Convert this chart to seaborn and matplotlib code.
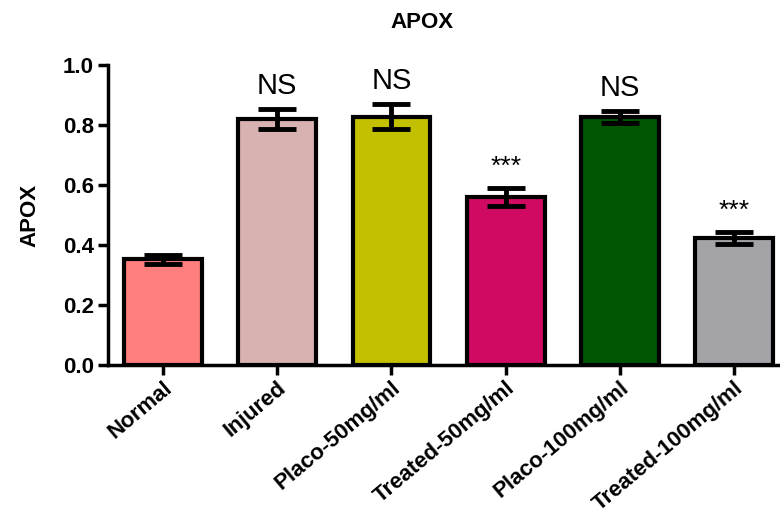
import matplotlib
matplotlib.use("Agg")
import matplotlib.pyplot as plt
import matplotlib.transforms as mtransforms
import seaborn as sns
import numpy as np
import pandas as pd

groups = ["Normal", "Injured", "Placo-50mg/ml", "Treated-50mg/ml",
          "Placo-100mg/ml", "Treated-100mg/ml"]
apox_mean = [0.352, 0.820, 0.828, 0.561, 0.828, 0.424]
apox_sem = [0.016, 0.033, 0.042, 0.030, 0.020, 0.020]
signif = ["", "NS", "NS", "***", "NS", "***"]
bar_colors = ["#FF7F7F", "#D8B1B1", "#C2C000", "#D00A62", "#005500", "#A4A3A7"]
y_ticks = [0.0, 0.2, 0.4, 0.6, 0.8, 1.0]

sns.set_theme(style="ticks")
plt.rcParams["font.family"] = ["Liberation Sans", "DejaVu Sans"]
plt.rcParams["text.color"] = "black"
plt.rcParams["xtick.color"] = "black"
plt.rcParams["ytick.color"] = "black"
plt.rcParams["axes.labelcolor"] = "black"

df = pd.DataFrame({"group": groups, "APOX": apox_mean})

fig = plt.figure(figsize=(7.8, 5.16), dpi=100)
ax = fig.add_axes([108 / 780, 1 - 365 / 516, (780 - 108) / 780, 300 / 516])

sns.barplot(data=df, x="group", y="APOX", hue="group", palette=bar_colors,
            saturation=1, legend=False, errorbar=None, width=0.68,
            edgecolor="black", linewidth=3, ax=ax, zorder=2)

xpos = np.arange(len(groups))
ax.errorbar(xpos, apox_mean, yerr=apox_sem, fmt="none", ecolor="black",
            elinewidth=3.5, capsize=14, capthick=3.5, zorder=3)

for x, m, e, s in zip(xpos, apox_mean, apox_sem, signif):
    if s == "NS":
        ax.text(x, m + e + 0.03, s, ha="center", va="bottom", fontsize=21,
                color="black")
    elif s:
        ax.text(x, m + e + 0.03, s, ha="center", va="bottom", fontsize=19,
                color="black")

ax.set_ylim(0, 1.0)
ax.set_xlim(-0.48, 5.4)
ax.set_yticks(y_ticks)
ax.set_yticklabels([f"{t:.1f}" for t in y_ticks], fontsize=16,
                   fontweight="bold")
ax.set_xticks(xpos)
ax.set_xticklabels(groups, rotation=40, ha="right", rotation_mode="anchor",
                   fontsize=16, fontweight="bold")
shift = mtransforms.ScaledTranslation(10 / 100, 0, fig.dpi_scale_trans)
for lbl in ax.get_xticklabels():
    lbl.set_transform(lbl.get_transform() + shift)
ax.set_xlabel("")
ax.set_ylabel("APOX", fontsize=16, fontweight="bold", labelpad=16)

for side in ("top", "right"):
    ax.spines[side].set_visible(False)
for side in ("left", "bottom"):
    ax.spines[side].set_linewidth(2.5)
    ax.spines[side].set_color("black")
ax.tick_params(axis="both", direction="out", length=7, width=2.5,
               color="black", pad=3)
ax.tick_params(axis="x", pad=2)

fig.text(422 / 780, 1 - 22 / 516, "APOX", ha="center", va="center",
         fontsize=16, fontweight="bold")

fig.savefig("out.png", dpi=100)
